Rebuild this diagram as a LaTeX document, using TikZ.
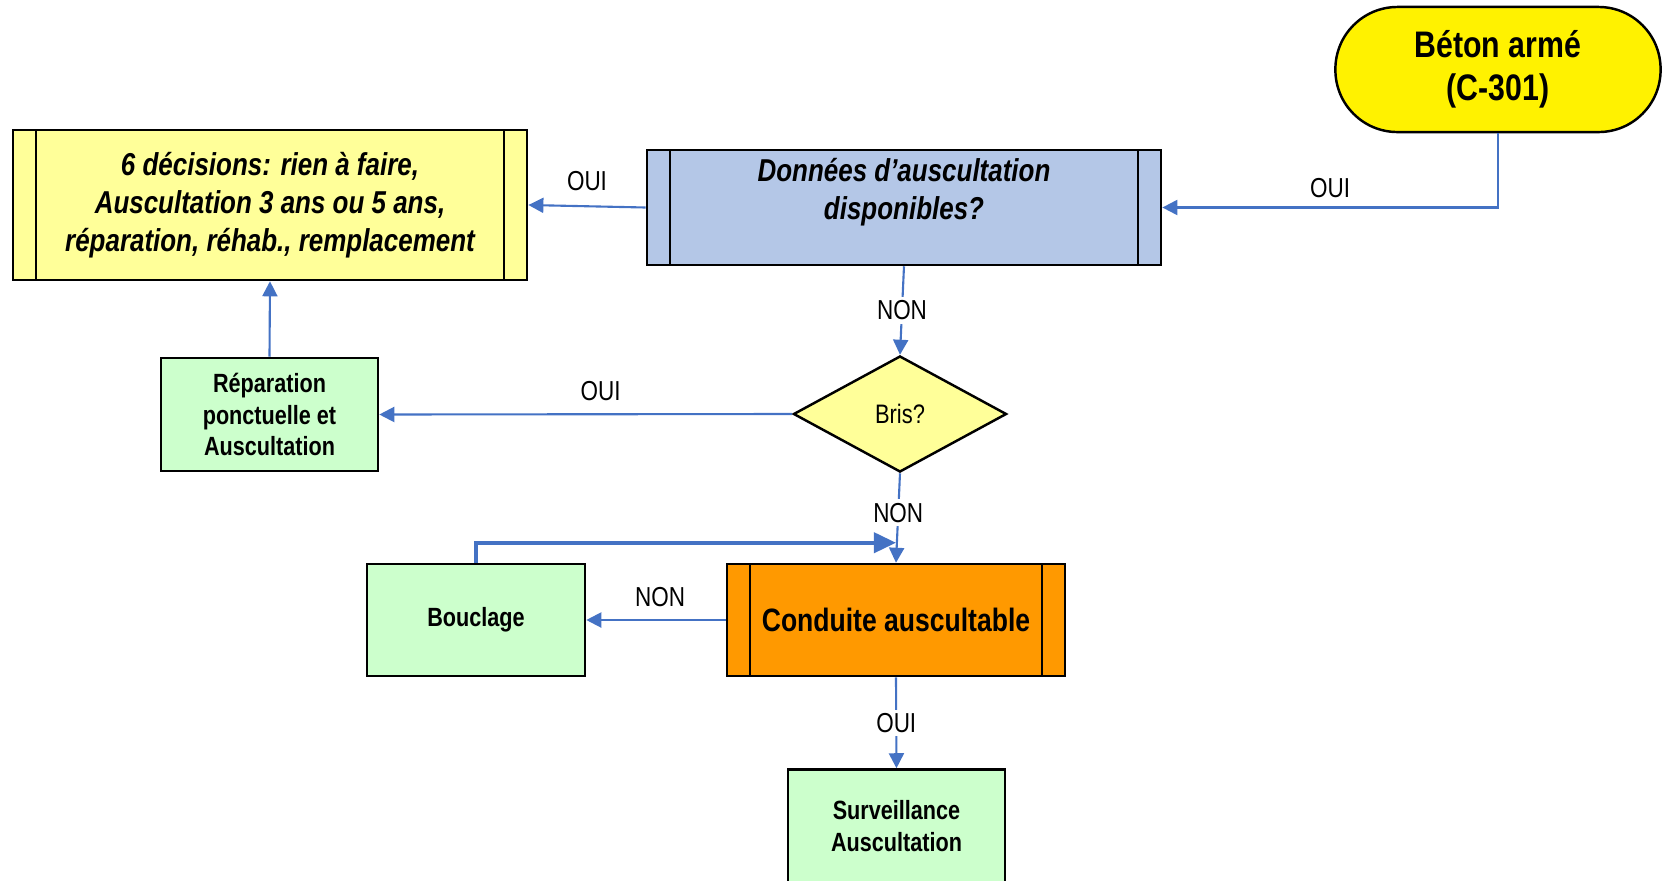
\documentclass[tikz,border=0pt]{standalone}
\usepackage{fontspec}
\setmainfont{Liberation Sans}[FakeStretch=0.82]
\usetikzlibrary{arrows.meta,shapes.geometric}

\definecolor{linkblue}{RGB}{68,114,196}
\definecolor{paleyellow}{RGB}{255,255,153}
\definecolor{steelblue}{RGB}{180,199,231}
\definecolor{palegreen}{RGB}{204,255,204}
\definecolor{orangebox}{RGB}{255,153,0}

\begin{document}
\begin{tikzpicture}[x=0.01cm,y=-0.01cm,
  conn/.style={draw=linkblue,line width=0.6pt,-{Triangle[length=1.5mm,width=1.5mm]}},
  loopconn/.style={draw=linkblue,line width=1.1pt,-{Triangle[length=2.2mm,width=2mm]}},
  lbl/.style={font=\fontsize{7.8}{9.2}\selectfont,inner sep=1pt},
  onlbl/.style={lbl,fill=white},
  boxline/.style={draw=black,line width=0.7pt},
  procbox/.style={boxline,rectangle,align=center,inner sep=0pt,
    path picture={
      \draw[line width=0.7pt] ([xshift=2.3mm]path picture bounding box.north west) -- ([xshift=2.3mm]path picture bounding box.south west);
      \draw[line width=0.7pt] ([xshift=-2.3mm]path picture bounding box.north east) -- ([xshift=-2.3mm]path picture bounding box.south east);
    }},
  bigtxt/.style={font=\fontsize{9}{10.8}\selectfont\bfseries\itshape},
  greenbox/.style={boxline,rectangle,fill=palegreen,align=center,inner sep=0pt,
    minimum width=2.17cm,minimum height=1.13cm,
    font=\fontsize{7.5}{9}\selectfont\bfseries}
]
  \useasboundingbox (0,0) rectangle (1665,881);
  \clip (0,0) rectangle (1665,881);

  % Start
  \node[boxline,fill=yellow,rectangle,rounded corners=6.2mm,align=center,
    minimum width=3.25cm,minimum height=1.25cm,
    font=\fontsize{10.5}{12.3}\selectfont\bfseries] (beton) at (1498,69.5) {Béton armé\\(C-301)};

  % Process boxes
  \node[procbox,fill=paleyellow,minimum width=5.14cm,minimum height=1.5cm,bigtxt] (decis) at (270,205)
    {6 décisions: rien à faire,\\Auscultation 3 ans ou 5 ans,\\réparation, réhab., remplacement};
  \node[procbox,fill=steelblue,minimum width=5.14cm,minimum height=1.15cm,bigtxt] (donnees) at (904,207.5)
    {Données d’auscultation\\disponibles?\\\mbox{}};
  \node[procbox,fill=orangebox,minimum width=3.38cm,minimum height=1.12cm,
    font=\fontsize{9.2}{11}\selectfont\bfseries] (conduite) at (896,620) {Conduite auscultable};

  % Decision
  \node[boxline,diamond,fill=paleyellow,minimum width=2.13cm,minimum height=1.16cm,inner sep=0pt,
    font=\fontsize{7.6}{9}\selectfont] (bris) at (900,414) {Bris?};

  % Green boxes
  \node[greenbox] (repar) at (269.5,414.5) {Réparation\\ponctuelle et\\Auscultation};
  \node[greenbox,minimum width=2.18cm,minimum height=1.12cm] (bouclage) at (476,620) {Bouclage};
  \node[greenbox] (surv) at (896.5,826) {Surveillance\\Auscultation};

  % Connectors
  \draw[conn] (beton.south) |- (donnees.east) node[pos=0.75,above=1.5pt,lbl] {OUI};
  \draw[conn] (donnees.west) -- (decis.east) node[midway,above=3pt,lbl] {OUI};
  \draw[conn] (donnees.south) -- (bris.north) node[midway,onlbl] {NON};
  \draw[conn] (bris.west) -- (repar.east) node[pos=0.464,above=2.5pt,lbl] {OUI};
  \draw[conn] (repar.north) -- (decis.south);
  \draw[conn] (bris.south) -- (conduite.north) node[pos=0.44,onlbl] {NON};
  \draw[loopconn] (bouclage.north) |- ([yshift=2mm]conduite.north);
  \draw[conn] (conduite.west) -- (bouclage.east) node[pos=0.47,above=2.5pt,lbl] {NON};
  \draw[conn] (conduite.south) -- (surv.north) node[midway,onlbl] {OUI};
\end{tikzpicture}
\end{document}
